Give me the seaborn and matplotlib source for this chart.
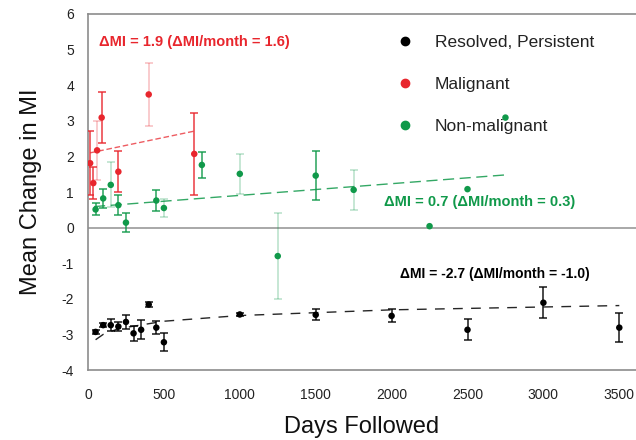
import numpy as np
import pandas as pd
import matplotlib
matplotlib.use("Agg")
import matplotlib.pyplot as plt
import seaborn as sns
from matplotlib.lines import Line2D

sns.set_style("white")
plt.rcParams['font.family'] = ['Liberation Sans', 'DejaVu Sans']
plt.rcParams['axes.unicode_minus'] = False

# ---- data ----
black_x = [50, 100, 150, 200, 250, 300, 350, 400, 450, 500, 1000, 1500, 2000, 2500, 3000, 3500]
black_y = [-2.93, -2.74, -2.74, -2.78, -2.65, -2.97, -2.87, -2.16, -2.81, -3.22,
           -2.44, -2.45, -2.48, -2.87, -2.11, -2.81]
black_err = [0.05, 0.05, 0.16, 0.13, 0.19, 0.22, 0.27, 0.08, 0.19, 0.26,
             0.03, 0.15, 0.18, 0.30, 0.44, 0.40]

red_x = [14, 35, 60, 90, 200, 400, 700]
red_y = [1.81, 1.25, 2.17, 3.09, 1.57, 3.74, 2.07]
red_err = [0.90, 0.45, 0.82, 0.71, 0.57, 0.88, 1.16]
red_faded = [False, False, True, False, False, True, False]

green_x = [50, 100, 150, 200, 250, 450, 500, 750, 1000, 1250, 1500, 1750, 2250, 2500, 2750]
green_y = [0.51, 0.82, 1.20, 0.63, 0.14, 0.76, 0.55, 1.76, 1.51, -0.80, 1.46, 1.06, 0.04, 1.08, 3.09]
green_err = [0.17, 0.26, 0.63, 0.28, 0.27, 0.30, 0.25, 0.37, 0.56, 1.20, 0.68, 0.57, 0, 0, 0]
green_faded = [False, False, True, False, False, False, True, False, True, True, False, True,
               False, False, False]

# trend lines
black_trend_x = [50, 100, 200, 500, 1000, 2000, 3500]
black_trend_y = [-3.15, -3.0, -2.84, -2.63, -2.47, -2.31, -2.19]
red_trend_x = [14, 700]
red_trend_y = [2.10, 2.71]
green_trend_x = [40, 2750]
green_trend_y = [0.59, 1.48]

labels = ["Resolved, Persistent", "Malignant", "Non-malignant"]
RED = "#e8262d"
GREEN = "#10994a"
BLACK = "#000000"
palette = {labels[0]: BLACK, labels[1]: RED, labels[2]: GREEN}

df = pd.concat([
    pd.DataFrame({"days": black_x, "mi": black_y, "err": black_err, "faded": False, "group": labels[0]}),
    pd.DataFrame({"days": red_x, "mi": red_y, "err": red_err, "faded": red_faded, "group": labels[1]}),
    pd.DataFrame({"days": green_x, "mi": green_y, "err": green_err, "faded": green_faded, "group": labels[2]}),
], ignore_index=True)

fig = plt.figure(figsize=(6.36, 4.40), dpi=100)
ax = fig.add_axes([88 / 636, 70 / 440, 548 / 636, 356 / 440])

# zero line
ax.axhline(0, color="#9a9a9a", lw=1.2, zorder=1)

# trend lines
ax.plot(black_trend_x, black_trend_y, color=BLACK, lw=1.0, dashes=(7, 6), alpha=0.85, zorder=2)
ax.plot(red_trend_x, red_trend_y, color=RED, lw=1.0, dashes=(4, 2), alpha=0.75, zorder=2)
ax.plot(green_trend_x, green_trend_y, color=GREEN, lw=1.0, dashes=(8, 4), alpha=0.85, zorder=2)

# error bars
for _, r in df.iterrows():
    if r["err"] <= 0:
        continue
    ax.errorbar(r["days"], r["mi"], yerr=r["err"], fmt="none",
                ecolor=palette[r["group"]], elinewidth=1.1, capsize=3, capthick=1.1,
                alpha=0.3 if r["faded"] else 0.9, zorder=3)

# points
sns.scatterplot(data=df, x="days", y="mi", hue="group", palette=palette,
                s=22, edgecolor="none", legend=False, ax=ax, zorder=4)

# annotations
ax.text(75, 5.22, "ΔMI = 1.9 (ΔMI/month = 1.6)", color=RED, fontsize=10.5,
        fontweight="bold", va="center", ha="left")
ax.text(1949, 0.71, "ΔMI = 0.7 (ΔMI/month = 0.3)", color=GREEN, fontsize=10.5,
        fontweight="bold", va="center", ha="left")
ax.text(2055, -1.29, "ΔMI = -2.7 (ΔMI/month = -1.0)", color=BLACK, fontsize=10,
        fontweight="bold", va="center", ha="left")

# legend
handles = [Line2D([], [], marker="o", ls="none", color=palette[l], markersize=6) for l in labels]
leg = ax.legend(handles, labels, loc="upper left", bbox_to_anchor=(0.535, 0.985),
                frameon=False, fontsize=12.5, labelspacing=1.55, handletextpad=1.2,
                handlelength=1.0)
for t in leg.get_texts():
    t.set_color("#222222")

ax.set_xlim(0, 3610)
ax.set_ylim(-4, 6)
ax.set_xticks(np.arange(0, 3501, 500))
ax.set_yticks(np.arange(-4, 7, 1))
ax.tick_params(direction="in", length=7, width=1, color="#8c8c8c", labelsize=10,
               labelcolor="#222222", pad=13)
ax.tick_params(axis="y", length=6, pad=10)

for side in ["left", "bottom", "top"]:
    ax.spines[side].set_color("#8c8c8c")
    ax.spines[side].set_linewidth(1.2)
ax.spines["right"].set_visible(False)

ax.set_xlabel("Days Followed", fontsize=17, labelpad=10, color="#111111")
ax.set_ylabel("Mean Change in MI", fontsize=17, labelpad=14, color="#111111")

fig.savefig("out.png", dpi=100)
